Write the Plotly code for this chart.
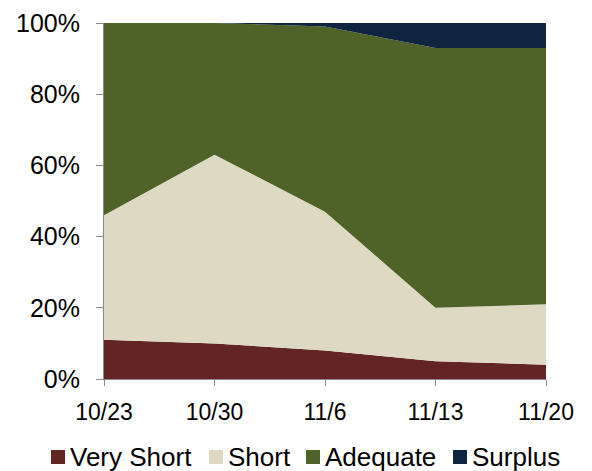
import plotly.graph_objects as go

dates = ["10/23", "10/30", "11/6", "11/13", "11/20"]
very_short = [11, 10, 8, 5, 4]
short = [35, 53, 39, 15, 17]
adequate = [54, 37, 52, 73, 72]
surplus = [0, 0, 1, 7, 7]

names = ["Very Short", "Short", "Adequate", "Surplus"]
values = [very_short, short, adequate, surplus]
colors = ["#632523", "#DDD9C3", "#4F6228", "#0F243E"]

W, H = 592, 471
L, R, T, B = 104, 46, 23, 92
PW, PH = W - L - R, H - T - B

def px2paper(px, py):
    return (px - L) / PW, (H - B - py) / PH

x = list(range(len(dates)))
fig = go.Figure()
for name, vals, col in zip(names, values, colors):
    fig.add_trace(go.Scatter(
        x=x, y=vals, name=name, mode="lines", stackgroup="one",
        line=dict(width=0, color=col), fillcolor=col, showlegend=False,
        hoverinfo="skip"))

# manual legend (square swatches + labels), laid out like the original
leg_font = dict(family="Liberation Sans, Arial, sans-serif", size=26, color="#000000")
swatch_left = [51, 209, 306, 453]
for name, col, sx in zip(names, colors, swatch_left):
    x0, y0 = px2paper(sx, 464)
    x1, y1 = px2paper(sx + 14, 450)
    fig.add_shape(type="rect", xref="paper", yref="paper", x0=x0, y0=y0, x1=x1, y1=y1,
                  fillcolor=col, line=dict(width=0))
    tx, ty = px2paper(sx + 18, 457)
    fig.add_annotation(xref="paper", yref="paper", x=tx, y=ty, text=name,
                       showarrow=False, xanchor="left", yanchor="middle",
                       font=leg_font, borderpad=0)

yfont = dict(family="Liberation Sans, Arial, sans-serif", size=25, color="#000000")
xfont = dict(family="Liberation Sans, Arial, sans-serif", size=23, color="#000000")
fig.update_layout(
    width=W, height=H,
    margin=dict(l=L, r=R, t=T, b=B),
    paper_bgcolor="white", plot_bgcolor="white",
    showlegend=False,
    xaxis=dict(range=[0, 4], tickvals=x, ticktext=dates, showgrid=False,
               zeroline=False, showline=True, linecolor="#8C8C8C", linewidth=1,
               ticks="outside", ticklen=6, tickcolor="#8C8C8C", tickfont=xfont,
               ticklabelstandoff=6, automargin=False),
    yaxis=dict(range=[0, 100], tickvals=[0, 20, 40, 60, 80, 100],
               ticktext=["0%", "20%", "40%", "60%", "80%", "100%"],
               showgrid=False, zeroline=False, showline=True, linecolor="#8C8C8C",
               linewidth=1, ticks="outside", ticklen=7, tickcolor="#8C8C8C",
               tickfont=yfont, ticklabelstandoff=11, automargin=False),
)
fig.write_html("out.html", config={"displayModeBar": False},
               post_script="document.body.style.margin='0';document.body.style.overflow='hidden';")
